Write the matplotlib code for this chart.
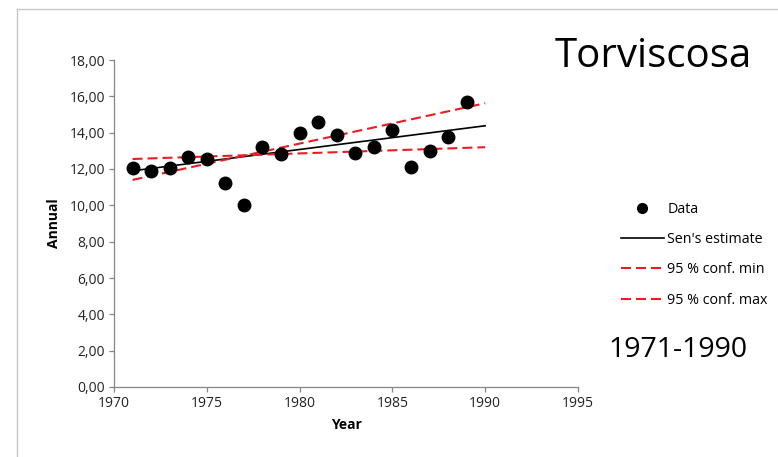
import matplotlib
matplotlib.use("Agg")
import matplotlib.pyplot as plt
from matplotlib.lines import Line2D
from matplotlib.ticker import FuncFormatter

plt.rcParams['font.family'] = ['Open Sans', 'DejaVu Sans']

# data
years = [1971, 1972, 1973, 1974, 1975, 1976, 1977, 1978, 1979, 1980,
         1981, 1982, 1983, 1984, 1985, 1986, 1987, 1988, 1989]
annual = [12.08, 11.87, 12.08, 12.67, 12.55, 11.22, 10.00, 13.20, 12.83, 14.00,
          14.60, 13.86, 12.87, 13.20, 14.12, 12.10, 12.97, 13.75, 15.68]

trend_years = [1971, 1990]
sen = [11.90, 14.38]
conf_min = [12.55, 13.20]
conf_max = [11.40, 15.62]

gray = '#868686'
red = '#ED1C24'
dash = (0, (4.8, 2.4))

fig = plt.figure(figsize=(7.78, 4.57), dpi=100)
ax = fig.add_axes([114/778, 1 - 387/457, (578 - 114)/778, (387 - 60)/457])

ax.plot(trend_years, sen, color='black', lw=1.2, zorder=3)
ax.plot(trend_years, conf_min, color=red, lw=1.5, ls=dash, zorder=3)
ax.plot(trend_years, conf_max, color=red, lw=1.5, ls=dash, zorder=3)
ax.plot(years, annual, 'o', color='black', ms=9, zorder=4)

ax.set_xlim(1970, 1995)
ax.set_ylim(0, 18)
ax.set_xticks(range(1970, 1996, 5))
ax.set_yticks(range(0, 19, 2))
ax.yaxis.set_major_formatter(FuncFormatter(lambda v, p: f"{v:.2f}".replace('.', ',')))

for s in ['top', 'right']:
    ax.spines[s].set_visible(False)
for s in ['left', 'bottom']:
    ax.spines[s].set_color(gray)
    ax.spines[s].set_linewidth(0.9)
ax.tick_params(direction='out', length=3.5, width=0.9, color=gray,
               labelsize=10, labelcolor='#222222', pad=3)

ax.set_xlabel('Year', fontsize=10, fontweight='bold', labelpad=5)
ax.set_ylabel('Annual', fontsize=10, fontweight='bold', labelpad=6)

handles = [
    Line2D([], [], marker='o', color='black', ls='none', ms=7),
    Line2D([], [], color='black', lw=1.2),
    Line2D([], [], color=red, lw=1.5, ls=dash),
    Line2D([], [], color=red, lw=1.5, ls=dash),
]
labels = ['Data', "Sen's estimate", '95 % conf. min', '95 % conf. max']
fig.legend(handles, labels, loc='upper left', bbox_to_anchor=(615/778, 1 - 196/457),
           frameon=False, fontsize=10.3, handlelength=3.0, handletextpad=0.25,
           labelspacing=1.07, borderaxespad=0)

fig.text(555/778, 1 - 67/457, 'Torviscosa', fontsize=29, ha='left', va='baseline')
fig.text(608/778, 1 - 357/457, '1971-1990', fontsize=20.5, ha='left', va='baseline')

# chart area border
fig.add_artist(Line2D([17/778, 1], [1 - 9/457, 1 - 9/457], color='#c8c8c8', lw=1))
fig.add_artist(Line2D([17/778, 17/778], [0, 1 - 9/457], color='#c8c8c8', lw=1))

fig.savefig('out.png', dpi=100)
